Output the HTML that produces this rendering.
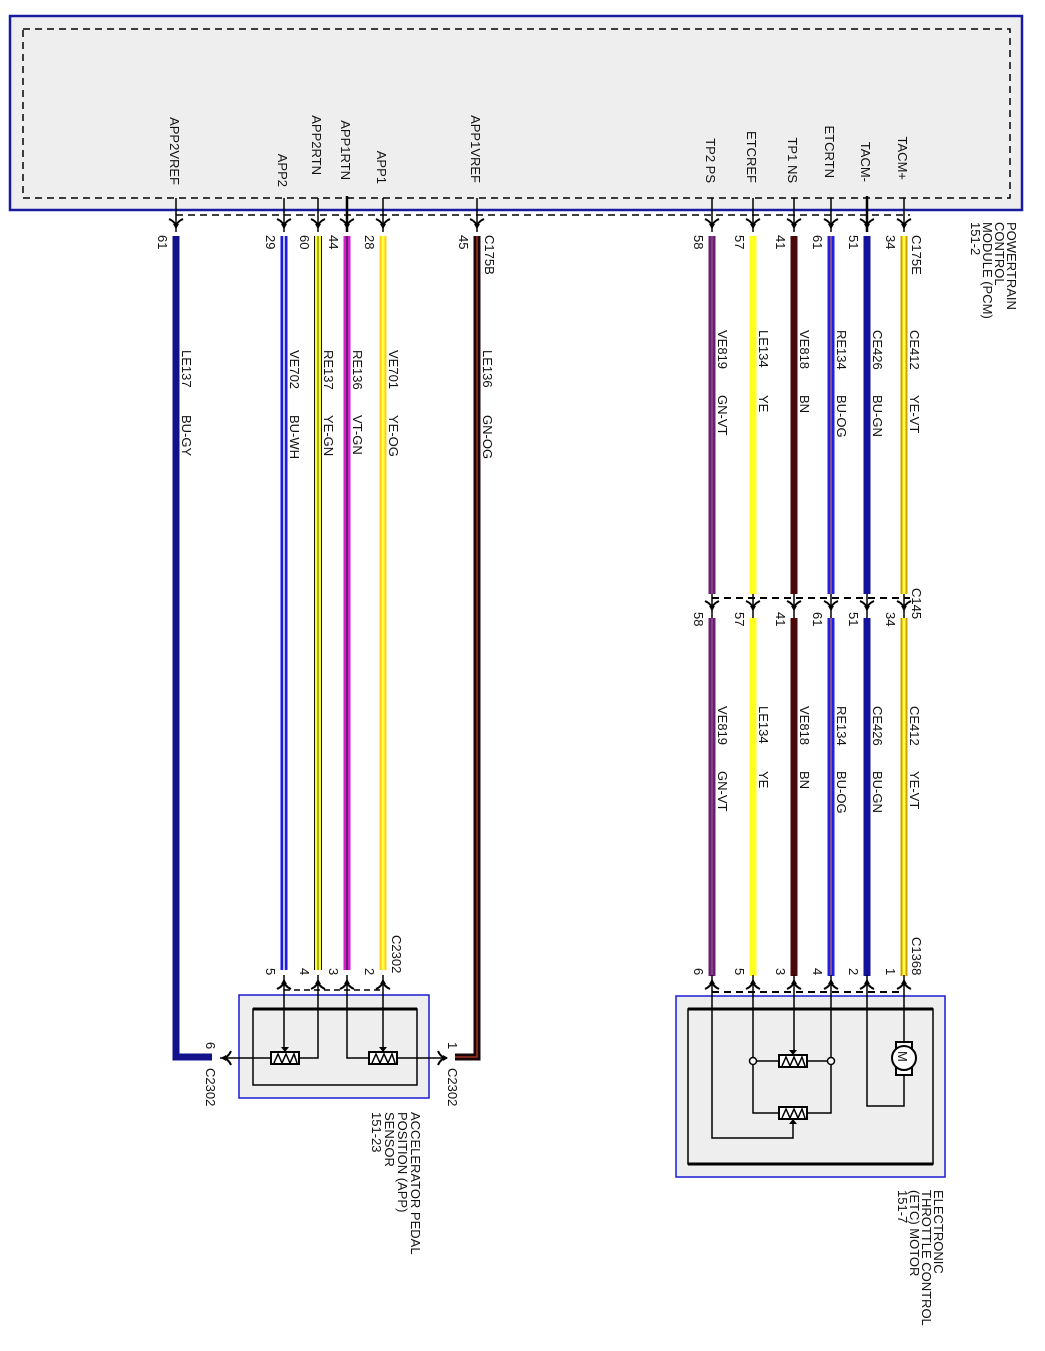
<!DOCTYPE html>
<html><head><meta charset="utf-8"><style>
html,body{margin:0;padding:0;background:#fff}
svg{display:block}
text{font-family:"Liberation Sans",sans-serif;font-size:13px;fill:#111}
</style></head><body>
<svg width="1045" height="1351" viewBox="0 0 1045 1351" xmlns="http://www.w3.org/2000/svg">
<defs>
<g id="ar"><path d="M-7,-5 Q0,-2 0,4 Q0,-2 7,-5" fill="none" stroke="#000" stroke-width="2"/><path d="M-3,0 L0,5 L3,0Z" fill="#000"/></g>
<g id="ard"><path d="M-7,5 Q0,2 0,-4 Q0,2 7,5" fill="none" stroke="#000" stroke-width="2"/><path d="M-3,0 L0,-5 L3,0Z" fill="#000"/></g>
<g id="res"><rect x="-14" y="-6" width="28" height="12" fill="#fff" stroke="#000" stroke-width="2"/><path d="M-11,5 L-7,-4 L-3,5 L1,-4 L5,5 L9,-4 L12,5" fill="none" stroke="#000" stroke-width="1.5"/></g>
</defs>
<!-- PCM -->
<rect x="10" y="16" width="1012" height="194" fill="#eeeeee" stroke="#1a1aa0" stroke-width="2.5"/>
<rect x="23" y="29" width="987" height="169" fill="none" stroke="#000" stroke-width="1.5" stroke-dasharray="7,5"/>
<line x1="176" y1="215" x2="910" y2="215" stroke="#000" stroke-width="1.5" stroke-dasharray="7,5"/>
<g stroke="#000" stroke-width="1.5">
<line x1="176" y1="198" x2="176" y2="232"/><line x1="284" y1="198" x2="284" y2="232"/><line x1="318" y1="198" x2="318" y2="232"/>
<line x1="347" y1="196" x2="347" y2="232" stroke-width="2.5"/><line x1="383" y1="198" x2="383" y2="232"/><line x1="477" y1="198" x2="477" y2="232"/>
<line x1="712" y1="198" x2="712" y2="232"/><line x1="753" y1="198" x2="753" y2="232"/><line x1="794" y1="198" x2="794" y2="232"/>
<line x1="831" y1="198" x2="831" y2="232"/><line x1="867" y1="196" x2="867" y2="232" stroke-width="2.5"/><line x1="904" y1="198" x2="904" y2="232"/>
</g>
<g>
<use href="#ar" x="176" y="224"/><use href="#ar" x="284" y="224"/><use href="#ar" x="318" y="224"/><use href="#ar" x="347" y="224"/><use href="#ar" x="383" y="224"/><use href="#ar" x="477" y="224"/>
<use href="#ar" x="712" y="224"/><use href="#ar" x="753" y="224"/><use href="#ar" x="794" y="224"/><use href="#ar" x="831" y="224"/><use href="#ar" x="867" y="224"/><use href="#ar" x="904" y="224"/>
</g>
<g text-anchor="end">
<text transform="translate(170,185) rotate(90)">APP2VREF</text>
<text transform="translate(278,187) rotate(90)">APP2</text>
<text transform="translate(312,175) rotate(90)">APP2RTN</text>
<text transform="translate(341,180) rotate(90)">APP1RTN</text>
<text transform="translate(377,184) rotate(90)">APP1</text>
<text transform="translate(471,183) rotate(90)">APP1VREF</text>
<text transform="translate(706,183) rotate(90)">TP2 PS</text>
<text transform="translate(747,183) rotate(90)">ETCREF</text>
<text transform="translate(788,183) rotate(90)">TP1 NS</text>
<text transform="translate(825,178) rotate(90)">ETCRTN</text>
<text transform="translate(861,182) rotate(90)">TACM-</text>
<text transform="translate(898,180) rotate(90)">TACM+</text>
</g>
<g>
<text transform="translate(1007,222) rotate(90)">POWERTRAIN</text>
<text transform="translate(995,222) rotate(90)">CONTROL</text>
<text transform="translate(983,222) rotate(90)">MODULE (PCM)</text>
<text transform="translate(971,222) rotate(90)">151-2</text>
</g>
<g>
<text transform="translate(158,235) rotate(90)">61</text>
<text transform="translate(266,235) rotate(90)">29</text>
<text transform="translate(300,235) rotate(90)">60</text>
<text transform="translate(329,235) rotate(90)">44</text>
<text transform="translate(365,235) rotate(90)">28</text>
<text transform="translate(459,235) rotate(90)">45</text>
<text transform="translate(485,235) rotate(90)">C175B</text>
<text transform="translate(694,235) rotate(90)">58</text>
<text transform="translate(735,235) rotate(90)">57</text>
<text transform="translate(776,235) rotate(90)">41</text>
<text transform="translate(813,235) rotate(90)">61</text>
<text transform="translate(849,235) rotate(90)">51</text>
<text transform="translate(886,235) rotate(90)">34</text>
<text transform="translate(912,235) rotate(90)">C175E</text>
</g>
<path d="M176,236 V1057 H212" fill="none" stroke="#12128a" stroke-width="7"/>
<line x1="284" y1="236" x2="284" y2="970" stroke="#1a1ae0" stroke-width="7"/><line x1="284" y1="236" x2="284" y2="970" stroke="#fff" stroke-width="1.5"/>
<line x1="318" y1="236" x2="318" y2="970" stroke="#111" stroke-width="8"/><line x1="318" y1="236" x2="318" y2="970" stroke="#ffff30" stroke-width="6"/><line x1="318" y1="236" x2="318" y2="970" stroke="#5a5a10" stroke-width="1"/>
<line x1="347" y1="236" x2="347" y2="970" stroke="#d020d0" stroke-width="7"/><line x1="347" y1="236" x2="347" y2="970" stroke="#4a1a4a" stroke-width="1.5"/>
<line x1="383" y1="236" x2="383" y2="970" stroke="#ffcc20" stroke-width="7"/><line x1="383" y1="236" x2="383" y2="970" stroke="#ffff40" stroke-width="3"/>
<path d="M477,236 V1057 H455" fill="none" stroke="#1a0808" stroke-width="7"/><path d="M477,236 V1057 H455" fill="none" stroke="#a03020" stroke-width="1.5"/>
<g>
<text transform="translate(182,350) rotate(90)">LE137</text><text transform="translate(182,415) rotate(90)">BU-GY</text>
<text transform="translate(290,350) rotate(90)">VE702</text><text transform="translate(290,415) rotate(90)">BU-WH</text>
<text transform="translate(324,350) rotate(90)">RE137</text><text transform="translate(324,415) rotate(90)">YE-GN</text>
<text transform="translate(353,350) rotate(90)">RE136</text><text transform="translate(353,415) rotate(90)">VT-GN</text>
<text transform="translate(389,350) rotate(90)">VE701</text><text transform="translate(389,415) rotate(90)">YE-OG</text>
<text transform="translate(483,350) rotate(90)">LE136</text><text transform="translate(483,415) rotate(90)">GN-OG</text>
</g>
<g id="rw">
<line x1="712" y1="236" x2="712" y2="594" stroke="#6a2070" stroke-width="7"/><line x1="712" y1="236" x2="712" y2="594" stroke="#904a90" stroke-width="1.5"/>
<line x1="753" y1="236" x2="753" y2="594" stroke="#ffff20" stroke-width="7"/>
<line x1="794" y1="236" x2="794" y2="594" stroke="#4a0808" stroke-width="7"/>
<line x1="831" y1="236" x2="831" y2="594" stroke="#2020e0" stroke-width="7"/><line x1="831" y1="236" x2="831" y2="594" stroke="#e08040" stroke-width="1"/>
<line x1="867" y1="236" x2="867" y2="594" stroke="#12129a" stroke-width="7"/>
<line x1="904" y1="236" x2="904" y2="594" stroke="#d0a000" stroke-width="7"/><line x1="904" y1="236" x2="904" y2="594" stroke="#ffff40" stroke-width="3"/>
</g>
<use href="#rw" y="382"/>
<line x1="712" y1="598" x2="910" y2="598" stroke="#000" stroke-width="2" stroke-dasharray="7,5"/>
<g><use href="#ar" x="712" y="606"/><use href="#ar" x="753" y="606"/><use href="#ar" x="794" y="606"/><use href="#ar" x="831" y="606"/><use href="#ar" x="867" y="606"/><use href="#ar" x="904" y="606"/></g>
<g stroke="#000" stroke-width="1.5"><line x1="712" y1="594" x2="712" y2="618"/><line x1="753" y1="594" x2="753" y2="618"/><line x1="794" y1="594" x2="794" y2="618"/><line x1="831" y1="594" x2="831" y2="618"/><line x1="867" y1="594" x2="867" y2="618"/><line x1="904" y1="594" x2="904" y2="618"/></g>
<g>
<text transform="translate(694,612) rotate(90)">58</text><text transform="translate(735,612) rotate(90)">57</text><text transform="translate(776,612) rotate(90)">41</text>
<text transform="translate(813,612) rotate(90)">61</text><text transform="translate(849,612) rotate(90)">51</text><text transform="translate(886,612) rotate(90)">34</text>
<text transform="translate(912,588) rotate(90)">C145</text>
</g>
<g>
<text transform="translate(718,330) rotate(90)">VE819</text><text transform="translate(718,395) rotate(90)">GN-VT</text>
<text transform="translate(759,330) rotate(90)">LE134</text><text transform="translate(759,395) rotate(90)">YE</text>
<text transform="translate(800,330) rotate(90)">VE818</text><text transform="translate(800,395) rotate(90)">BN</text>
<text transform="translate(837,330) rotate(90)">RE134</text><text transform="translate(837,395) rotate(90)">BU-OG</text>
<text transform="translate(873,330) rotate(90)">CE426</text><text transform="translate(873,395) rotate(90)">BU-GN</text>
<text transform="translate(910,330) rotate(90)">CE412</text><text transform="translate(910,395) rotate(90)">YE-VT</text>
<text transform="translate(718,706) rotate(90)">VE819</text><text transform="translate(718,771) rotate(90)">GN-VT</text>
<text transform="translate(759,706) rotate(90)">LE134</text><text transform="translate(759,771) rotate(90)">YE</text>
<text transform="translate(800,706) rotate(90)">VE818</text><text transform="translate(800,771) rotate(90)">BN</text>
<text transform="translate(837,706) rotate(90)">RE134</text><text transform="translate(837,771) rotate(90)">BU-OG</text>
<text transform="translate(873,706) rotate(90)">CE426</text><text transform="translate(873,771) rotate(90)">BU-GN</text>
<text transform="translate(910,706) rotate(90)">CE412</text><text transform="translate(910,771) rotate(90)">YE-VT</text>
</g>
<line x1="284" y1="990" x2="383" y2="990" stroke="#000" stroke-width="1.5" stroke-dasharray="6,4"/>
<line x1="712" y1="992" x2="904" y2="992" stroke="#000" stroke-width="2" stroke-dasharray="7,5"/>
<g>
<use href="#ard" x="284" y="984"/><use href="#ard" x="318" y="984"/><use href="#ard" x="347" y="984"/><use href="#ard" x="383" y="984"/>
<use href="#ard" x="712" y="984"/><use href="#ard" x="753" y="984"/><use href="#ard" x="794" y="984"/><use href="#ard" x="831" y="984"/><use href="#ard" x="867" y="984"/><use href="#ard" x="904" y="984"/>
</g>
<g>
<text transform="translate(266,968) rotate(90)">5</text><text transform="translate(300,968) rotate(90)">4</text><text transform="translate(329,968) rotate(90)">3</text><text transform="translate(365,968) rotate(90)">2</text>
<text transform="translate(392,935) rotate(90)">C2302</text>
<text transform="translate(694,968) rotate(90)">6</text><text transform="translate(735,968) rotate(90)">5</text><text transform="translate(776,968) rotate(90)">3</text>
<text transform="translate(813,968) rotate(90)">4</text><text transform="translate(849,968) rotate(90)">2</text><text transform="translate(886,968) rotate(90)">1</text>
<text transform="translate(912,937) rotate(90)">C1368</text>
</g>
<rect x="239" y="995" width="190" height="103" fill="#eeeeee" stroke="#1a1ad0" stroke-width="1.5"/>
<rect x="253" y="1009" width="164" height="76" fill="none" stroke="#000" stroke-width="1.5"/>
<line x1="253" y1="1009" x2="417" y2="1009" stroke="#000" stroke-width="3"/>
<g fill="none" stroke="#000" stroke-width="1.5">
<path d="M284,975 V1050"/><path d="M318,975 V1058 H299"/><path d="M347,975 V1058 H369"/><path d="M383,975 V1050"/>
<path d="M271,1058 H220"/><path d="M397,1058 H447"/>
</g>
<use href="#res" x="285" y="1058"/><use href="#res" x="383" y="1058"/>
<path d="M281,1047 L289,1047 L285,1052Z" fill="#000"/><path d="M379,1047 L387,1047 L383,1052Z" fill="#000"/>
<use href="#ar" x="226" y="1058" transform="rotate(90 226 1058)"/>
<use href="#ar" x="443" y="1058" transform="rotate(-90 443 1058)"/>
<text transform="translate(206,1042) rotate(90)">6</text><text transform="translate(206,1068) rotate(90)">C2302</text>
<text transform="translate(448,1042) rotate(90)">1</text><text transform="translate(448,1068) rotate(90)">C2302</text>
<g>
<text transform="translate(411,1112) rotate(90)">ACCELERATOR PEDAL</text>
<text transform="translate(398,1112) rotate(90)">POSITION (APP)</text>
<text transform="translate(385,1112) rotate(90)">SENSOR</text>
<text transform="translate(372,1112) rotate(90)">151-23</text>
</g>
<rect x="676" y="996" width="269" height="181" fill="#eeeeee" stroke="#1a1ad0" stroke-width="1.5"/>
<rect x="688" y="1009" width="245" height="155" fill="none" stroke="#000" stroke-width="1.5"/>
<line x1="688" y1="1009" x2="933" y2="1009" stroke="#000" stroke-width="3"/>
<line x1="688" y1="1164" x2="933" y2="1164" stroke="#000" stroke-width="3"/>
<g fill="none" stroke="#000" stroke-width="1.5">
<path d="M712,975 V1138 H793 V1122"/>
<path d="M753,975 V1113 H779"/><path d="M831,975 V1113 H807"/>
<path d="M753,1061 H779"/><path d="M807,1061 H831"/>
<path d="M794,975 V1051"/>
<path d="M904,975 V1044"/><path d="M904,1073 V1106 H867 V975"/>
</g>
<g fill="#fff" stroke="#000" stroke-width="1.5"><circle cx="753" cy="1061" r="3.5"/><circle cx="831" cy="1061" r="3.5"/></g>
<use href="#res" x="793" y="1061"/><use href="#res" x="793" y="1113"/>
<path d="M789,1050 L797,1050 L793,1055Z" fill="#000"/><path d="M789,1124 L797,1124 L793,1119Z" fill="#000"/>
<rect x="896" y="1042" width="16" height="33" fill="#fff" stroke="#000" stroke-width="2"/>
<circle cx="904" cy="1058" r="12" fill="#fff" stroke="#000" stroke-width="2"/>
<text transform="translate(898,1051) rotate(90)">M</text>
<g>
<text transform="translate(934,1190) rotate(90)">ELECTRONIC</text>
<text transform="translate(922,1190) rotate(90)">THROTTLE CONTROL</text>
<text transform="translate(910,1190) rotate(90)">(ETC) MOTOR</text>
<text transform="translate(898,1190) rotate(90)">151-7</text>
</g>
</svg>
</body></html>
